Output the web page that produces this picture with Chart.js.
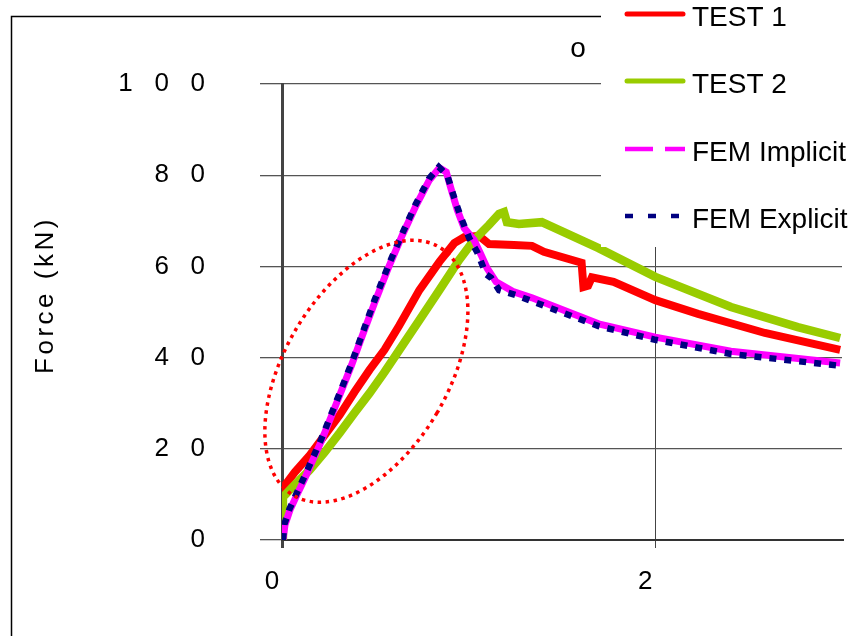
<!DOCTYPE html>
<html>
<head>
<meta charset="utf-8">
<script src="https://cdn.jsdelivr.net/npm/chart.js@4.4.1/dist/chart.umd.min.js"></script>
<style>
  html, body { margin: 0; padding: 0; background: #fff; }
  #wrap { width: 861px; height: 636px; }
</style>
</head>
<body>
<div id="wrap"><canvas id="chart" width="861" height="636"></canvas></div>
<script>
const FONT = '"Liberation Sans", Arial, Helvetica, sans-serif';

const SERIES_NAMES = ['TEST 1', 'TEST 2', 'FEM Implicit', 'FEM Explicit'];
const Y_TITLE = 'Force (kN)';
const X_TICKS = [0, 2];
const Y_TICKS = [0, 20, 40, 60, 80, 100];
const Y_TICK_LABELS = ['0', '2   0', '4   0', '6   0', '8   0', '1   0   0'];

const test1X = [0.005, 0.005, 0.069, 0.149, 0.229, 0.309, 0.389, 0.469, 0.549, 0.629, 0.736, 0.843, 0.923, 0.976, 1.056, 1.109, 1.243, 1.339, 1.403, 1.605, 1.615, 1.64, 1.66, 1.776, 2.0, 2.229, 2.587, 2.99];
const test1Y = [0, 11.4, 14.9, 18.6, 23.0, 27.4, 32.5, 37.3, 41.7, 47.1, 54.8, 61.0, 65.1, 66.4, 66.7, 64.9, 64.7, 64.5, 63.2, 60.8, 55.5, 55.8, 57.6, 56.6, 52.6, 49.6, 45.4, 41.7];

const test2X = [0.005, 0.005, 0.069, 0.149, 0.229, 0.309, 0.389, 0.469, 0.549, 0.629, 0.736, 0.843, 0.949, 1.029, 1.109, 1.163, 1.189, 1.205, 1.269, 1.392, 1.483, 1.696, 2.0, 2.405, 2.763, 2.99];
const test2Y = [0, 9.4, 12.1, 15.4, 19.3, 23.5, 27.9, 32.2, 36.8, 41.7, 48.2, 54.8, 61.4, 65.8, 69.1, 71.5, 71.9, 69.7, 69.3, 69.7, 68.0, 64.0, 57.7, 51.1, 46.7, 44.3];

const implicitX = [0.005, 0.016, 0.043, 0.08, 0.123, 0.165, 0.213, 0.267, 0.32, 0.373, 0.432, 0.496, 0.576, 0.645, 0.72, 0.789, 0.843, 0.88, 0.907, 0.939, 0.976, 1.029, 1.067, 1.099, 1.147, 1.243, 1.339, 1.696, 2.0, 2.405, 2.99];
const implicitY = [0, 3.3, 6.6, 9.9, 13.6, 17.5, 21.9, 27.4, 32.9, 38.4, 45.0, 52.0, 60.3, 66.9, 73.5, 78.9, 81.6, 80.7, 76.8, 72.4, 68.4, 65.8, 62.5, 59.6, 56.6, 54.4, 53.1, 47.4, 44.5, 41.4, 38.8];

const explicitX = [0.005, 0.013, 0.04, 0.077, 0.12, 0.163, 0.21, 0.264, 0.318, 0.371, 0.43, 0.493, 0.573, 0.643, 0.717, 0.787, 0.84, 0.885, 0.923, 0.96, 1.003, 1.045, 1.093, 1.12, 1.163, 1.253, 1.696, 2.0, 2.405, 2.99];
const explicitY = [0, 3.5, 6.8, 10.1, 13.9, 17.8, 22.1, 27.6, 33.1, 38.6, 45.2, 52.3, 60.5, 67.1, 73.7, 79.2, 81.8, 80.0, 75.0, 70.6, 66.2, 63.2, 58.3, 57.5, 54.8, 53.7, 46.9, 43.9, 40.8, 38.2];

// highlighted region (red dotted ellipse), centre in data units
const HIGHLIGHT_X = 0.452;
const HIGHLIGHT_Y = 37;

function pts(xs, ys) {
  return xs.map((x, i) => ({ x, y: ys[i] }));
}

const COLORS = ['#ff0000', '#99cc00', '#ff00ff', '#000080'];
const LEGEND_DASH = [[], [], [28, 12], [8, 15]];

const decor = {
  id: 'decor',
  beforeDraw(chart) {
    const c = chart.ctx;
    c.save();
    c.fillStyle = '#fff';
    c.fillRect(0, 0, chart.width, chart.height);
    c.strokeStyle = '#000';
    c.lineWidth = 1.5;
    c.strokeRect(11.5, 16.5, chart.width + 40, chart.height + 40);
    c.restore();
  },
  afterDatasetsDraw(chart) {
    const c = chart.ctx;
    const { x, y } = chart.scales;
    c.save();
    c.strokeStyle = '#ff0000';
    c.lineWidth = 3.5;
    c.setLineDash([3.5, 4.5]);
    c.beginPath();
    c.ellipse(x.getPixelForValue(HIGHLIGHT_X), y.getPixelForValue(HIGHLIGHT_Y), 82, 144, 0.53, 0, Math.PI * 2);
    c.stroke();
    c.restore();
  },
  afterDraw(chart) {
    const c = chart.ctx;
    c.save();
    // legend box over the plot
    c.fillStyle = '#fff';
    c.fillRect(601, -1, 270, 248);
    const rows = [14, 81, 149, 216];
    c.font = '28px ' + FONT;
    c.textBaseline = 'alphabetic';
    c.textAlign = 'left';
    SERIES_NAMES.forEach((name, i) => {
      c.strokeStyle = COLORS[i];
      c.lineWidth = i < 2 ? 5 : 4.5;
      c.lineCap = i < 2 ? 'round' : 'butt';
      c.setLineDash(LEGEND_DASH[i]);
      c.beginPath();
      c.moveTo(i < 2 ? 627 : 625, rows[i]);
      c.lineTo(i < 2 ? 683 : 685, rows[i]);
      c.stroke();
      c.fillStyle = '#000';
      c.fillText(name, 692, rows[i] + 12);
    });
    c.setLineDash([]);
    // stray title glyph
    c.textAlign = 'center';
    c.fillText('o', 578, 57);
    // y axis title
    c.translate(53, 297);
    c.rotate(-Math.PI / 2);
    c.font = '26px ' + FONT;
    if ('letterSpacing' in c) c.letterSpacing = '3.5px';
    c.fillText(Y_TITLE, 2, 0);
    c.restore();
  }
};

new Chart(document.getElementById('chart'), {
  type: 'line',
  data: {
    datasets: [
      { label: SERIES_NAMES[0], data: pts(test1X, test1Y), borderColor: COLORS[0], borderWidth: 8, order: 4 },
      { label: SERIES_NAMES[1], data: pts(test2X, test2Y), borderColor: COLORS[1], borderWidth: 8.5, order: 3 },
      { label: SERIES_NAMES[2], data: pts(implicitX, implicitY), borderColor: COLORS[2], borderWidth: 7, order: 2 },
      { label: SERIES_NAMES[3], data: pts(explicitX, explicitY), borderColor: COLORS[3], borderWidth: 6.5, borderDash: [7, 8], order: 1 }
    ]
  },
  options: {
    responsive: false,
    animation: false,
    parsing: false,
    elements: {
      point: { radius: 0 },
      line: { tension: 0, fill: false, borderJoinStyle: 'miter' }
    },
    layout: { padding: { top: 84, right: 19, bottom: 0, left: 0 } },
    plugins: { legend: { display: false }, tooltip: { enabled: false }, title: { display: false } },
    scales: {
      x: {
        type: 'linear',
        min: 0,
        max: 3,
        afterBuildTicks: (s) => { s.ticks = X_TICKS.map(v => ({ value: v })); },
        afterFit: (s) => { s.height = 96; },
        grid: {
          color: '#444',
          lineWidth: (ctx) => (ctx.tick && ctx.tick.value === 0 ? 3 : 1),
          tickLength: 8
        },
        border: { display: true, color: '#333', width: 2 },
        ticks: {
          color: '#000',
          font: { family: FONT, size: 26 },
          padding: 18,
          labelOffset: -10,
          maxRotation: 0,
          callback: (v) => String(v)
        }
      },
      y: {
        type: 'linear',
        min: 0,
        max: 100,
        afterBuildTicks: (s) => { s.ticks = Y_TICKS.map(v => ({ value: v })); },
        afterFit: (s) => { s.width = 282; },
        grid: { color: '#555', lineWidth: 1.3, tickLength: 22 },
        border: { display: true, color: '#444', width: 3 },
        ticks: {
          color: '#000',
          font: { family: FONT, size: 26 },
          padding: 55,
          callback: (v) => Y_TICK_LABELS[Y_TICKS.indexOf(v)]
        }
      }
    }
  },
  plugins: [decor]
});
</script>
</body>
</html>
